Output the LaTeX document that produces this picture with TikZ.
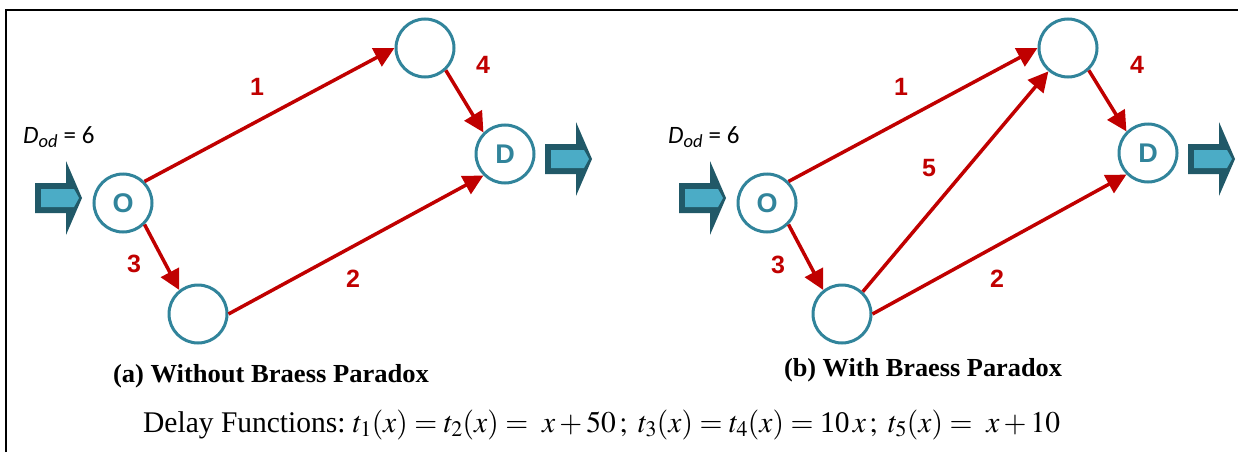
\documentclass[tikz,border=0pt]{standalone}
\usepackage{mathptmx}
\usepackage{fontspec}
\setmainfont{Liberation Serif}
\newfontfamily\sansfam{Liberation Sans}
\newfontfamily\carlito{Carlito}
\usetikzlibrary{arrows.meta}
\definecolor{edgered}{HTML}{C00000}
\definecolor{nodeteal}{HTML}{31849B}
\definecolor{arrdark}{HTML}{215968}
\definecolor{arrlight}{HTML}{4BACC6}
\tikzset{
  city/.style={circle, draw=nodeteal, line width=3pt, fill=white, minimum size=58pt,
    inner sep=0pt, text=nodeteal, font=\sansfam\bfseries\fontsize{27}{27}\selectfont},
  link/.style={draw=edgered, line width=3.5pt, -{Triangle[length=20pt,width=20pt]}},
  lbl/.style={text=edgered, inner sep=0pt, font=\sansfam\bfseries\fontsize{25}{25}\selectfont},
  demand/.style={anchor=base west, inner sep=0pt, font=\carlito\fontsize{25}{25}\selectfont},
  caption/.style={anchor=base, inner sep=0pt, font=\bfseries\fontsize{26}{26}\selectfont},
  pics/blockarrow/.style={code={
    \fill[arrdark] (0,-15) -- (31,-15) -- (31,-37) -- (47,0) -- (31,37) -- (31,15) -- (0,15) -- cycle;
    \fill[arrlight] (6,-9) -- (39,-9) -- (44,0) -- (39,9) -- (6,9) -- cycle;
  }}
}
\begin{document}
\begin{tikzpicture}[x=1pt,y=-1pt]
\useasboundingbox (0,0) rectangle (1238,452);
\draw[line width=1.5pt] (6,452) -- (6,10) -- (1238,10);

% ---------- (a) ----------
\pic at (35,198) {blockarrow};
\pic at (545,159) {blockarrow};
\node[demand] (dA) at (23,143) {\itshape D\textsubscript{od}\upshape\ = 6};
\node[city] (Oa) at (123,203) {O};
\node[city] (Ta) at (425,48) {};
\node[city] (Da) at (505,154) {D};
\node[city] (Ba) at (198,314) {};
\draw[link] (Oa.45) -- (Ta.west);
\draw[link] (Ba.east) -- (Da.225);
\draw[link] (Oa.-45) -- (Ba.128);
\draw[link] (Ta.-47) -- (Da.135);
\node[lbl] (l1a) at (257,87) {1};
\node[lbl] (l4a) at (483,65) {4};
\node[lbl] (l3a) at (134,264) {3};
\node[lbl] (l2a) at (353,279) {2};
\node[caption] (capA) at (271,382) {\resizebox{316pt}{\height}{(a) Without Braess Paradox}};

% ---------- (b) ----------
\pic at (679,198) {blockarrow};
\pic at (1188,159) {blockarrow};
\node[demand] (dB) at (668,143) {\itshape D\textsubscript{od}\upshape\ = 6};
\node[city] (Ob) at (767,203) {O};
\node[city] (Tb) at (1068,48) {};
\node[city] (Db) at (1148,153) {D};
\node[city] (Bb) at (842,314) {};
\draw[link] (Ob.45) -- (Tb.west);
\draw[link] (Bb.east) -- (Db.225);
\draw[link] (Ob.-45) -- (Bb.128);
\draw[link] (Tb.-47) -- (Db.135);
\draw[link] (Bb.47) -- (Tb.230);
\node[lbl] (l1b) at (901,87) {1};
\node[lbl] (l4b) at (1137,65) {4};
\node[lbl] (l5b) at (929,168) {5};
\node[lbl] (l3b) at (778,265) {3};
\node[lbl] (l2b) at (997,279) {2};
\node[caption] (capB) at (923,376) {\resizebox{278pt}{\height}{(b) With Braess Paradox}};

% ---------- delay functions ----------
\node[anchor=base west, inner sep=0pt, font=\fontsize{30}{30}\selectfont] (delay) at (143,432)
  {\resizebox{917pt}{\height}{Delay Functions:\ $t_1(x) = t_2(x) =\ x+50\,;\ t_3(x) = t_4(x) ={}$10$\,x\,;\ t_5(x) =\ x+10$}};
\end{tikzpicture}
\end{document}
